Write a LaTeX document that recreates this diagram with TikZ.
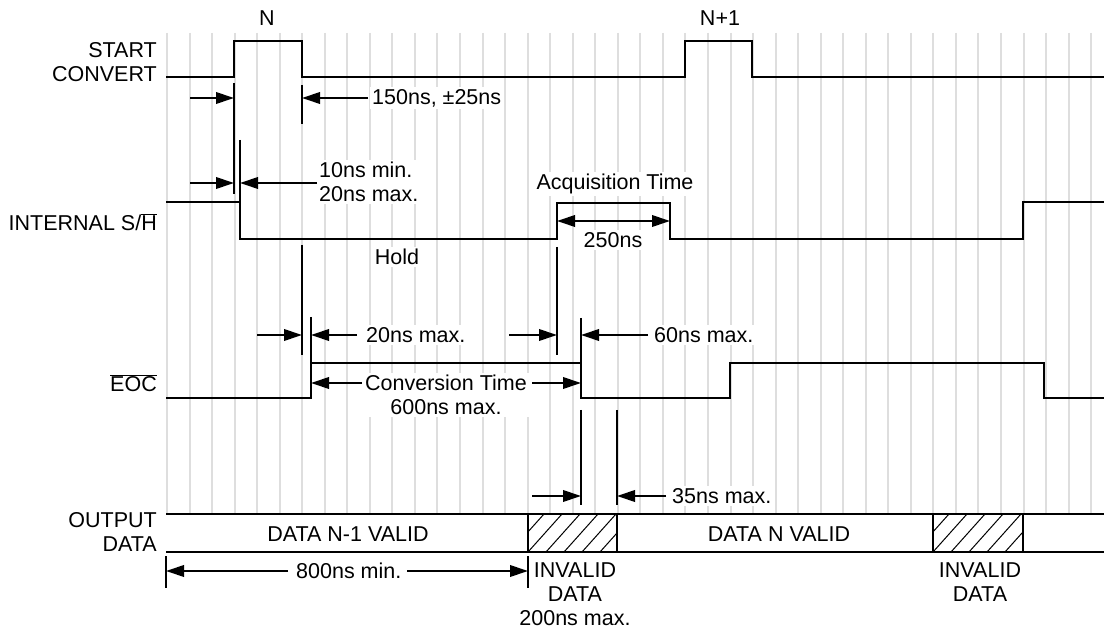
\documentclass[tikz,border=0pt]{standalone}
\usepackage{fontspec}
\setmainfont{Liberation Sans}
\usetikzlibrary{arrows.meta}
\begin{document}
\begin{tikzpicture}[x=1pt,y=-1pt,
  sig/.style={line width=2.6pt, line join=miter},
  tickl/.style={line width=2.4pt},
  dim/.style={line width=2pt, -{Triangle[length=18pt,width=11.5pt]}},
  dimboth/.style={line width=2pt, {Triangle[length=18pt,width=11.5pt]}-{Triangle[length=18pt,width=11.5pt]}},
  gridl/.style={line width=2pt, draw=black!13},
  lbl/.style={font=\fontsize{21.5}{24}\selectfont, inner sep=2pt, fill=white},
  hatchl/.style={line width=1pt}]
\useasboundingbox (0,0) rectangle (1104,628);
% grid
\foreach \i in {0,...,41} \draw[gridl] ({167+22.54*\i},33) -- ({167+22.54*\i},514);
% labels
\node[lbl] (n) at (267,18) {N};
\node[lbl] (n1) at (720,18) {N+1};
\node[lbl, anchor=east, align=right] (lsc) at (159,62) {START\\CONVERT};
\node[lbl, anchor=east] (lsh) at (159,222) {INTERNAL S/$\overline{\mbox{H}}$};
\node[lbl, anchor=east] (leoc) at (159,383) {$\overline{\mbox{EOC}}$};
\node[lbl, anchor=east, align=right] (lod) at (159,532) {OUTPUT\\DATA};
\node[lbl, anchor=west] (t150) at (370,98) {150ns, ±25ns};
\node[lbl, anchor=west, align=left] (t10) at (317,182) {10ns min.\\20ns max.};
\node[lbl] (tacq) at (615,184) {Acquisition Time};
\node[lbl] (t250) at (613,240) {250ns};
\node[lbl] (thold) at (397,257) {Hold};
\node[lbl, anchor=west] (t20) at (364,335) {20ns max.};
\node[lbl, anchor=west] (t60) at (652,335) {60ns max.};
\node[lbl, align=center] (tconv) at (446,395) {Conversion Time\\600ns max.};
\node[lbl, anchor=west] (t35) at (670,496) {35ns max.};
\node[lbl] (dv1) at (348,534) {DATA N-1 VALID};
\node[lbl] (dv2) at (779,534) {DATA N VALID};
\node[lbl, anchor=west] (t800) at (294,571) {800ns min.};
\node[lbl, align=center] (inv1) at (575,594) {INVALID\\DATA\\200ns max.};
\node[lbl, align=center] (inv2) at (980,582) {INVALID\\DATA};
% signals
\draw[sig] (166,77) -- (234,77) -- (234,41) -- (302,41) -- (302,77) -- (685,77) -- (685,41) -- (752,41) -- (752,77) -- (1104,77);
\draw[sig] (166,202) -- (240,202) -- (240,239) -- (557,239) -- (557,203) -- (670,203) -- (670,239) -- (1023,239) -- (1023,202) -- (1104,202);
\draw[sig] (166,398) -- (311,398) -- (311,363) -- (581,363) -- (581,398) -- (730,398) -- (730,363) -- (1044,363) -- (1044,398) -- (1104,398);
% output data bus with hatched boxes
\foreach \a/\b in {528/617, 933/1023} {
  \begin{scope}
    \clip (\a,514) rectangle (\b,552);
    \foreach \k in {-3,...,6} \draw[hatchl] ({\a+\k*18},552) -- ++(34,-38);
  \end{scope}
  \draw[line width=1.4pt] (\a,514) -- (\a,552) (\b,514) -- (\b,552);
}
\draw[sig] (166,514) -- (1104,514);
\draw[sig] (166,552) -- (1104,552);
% tick lines
\draw[tickl] (234,83) -- (234,194);
\draw[tickl] (240,140) -- (240,202);
\draw[tickl] (302,85) -- (302,124);
\draw[tickl] (302,245) -- (302,355);
\draw[tickl] (311,317) -- (311,363);
\draw[tickl] (557,247) -- (557,355);
\draw[tickl] (581,318) -- (581,363);
\draw[tickl] (581,410) -- (581,505);
\draw[tickl] (617,410) -- (617,505);
\draw[tickl] (166,556) -- (166,588);
\draw[tickl] (528,556) -- (528,588);
% dimension arrows
\coordinate (a1) at (190,98);
\draw[dim] (a1) -- (234,98);
\draw[dim] ([xshift=-2pt]t150.west) -- (302,98);
\coordinate (a3) at (190,183);
\draw[dim] (a3) -- (234,183);
\draw[dim] (t10.west |- 0,183) -- (240,183);
\draw[dimboth] (557,221) -- (670,221);
\coordinate (a6) at (257,335);
\draw[dim] (a6) -- (302,335);
\draw[dim] ([xshift=-7pt]t20.west) -- (311,335);
\coordinate (a7) at (509,335);
\draw[dim] (a7) -- (557,335);
\draw[dim] ([xshift=-4pt]t60.west) -- (581,335);
\draw[dim] (362,383) -- (311,383);
\draw[dim] (532,383) -- (581,383);
\coordinate (a9) at (532,496);
\draw[dim] (a9) -- (581,496);
\draw[dim] ([xshift=-4pt]t35.west) -- (617,496);
\draw[dim] ([xshift=-6pt]t800.west) -- (166,571);
\draw[dim] (407,571) -- (528,571);
\end{tikzpicture}
\end{document}
